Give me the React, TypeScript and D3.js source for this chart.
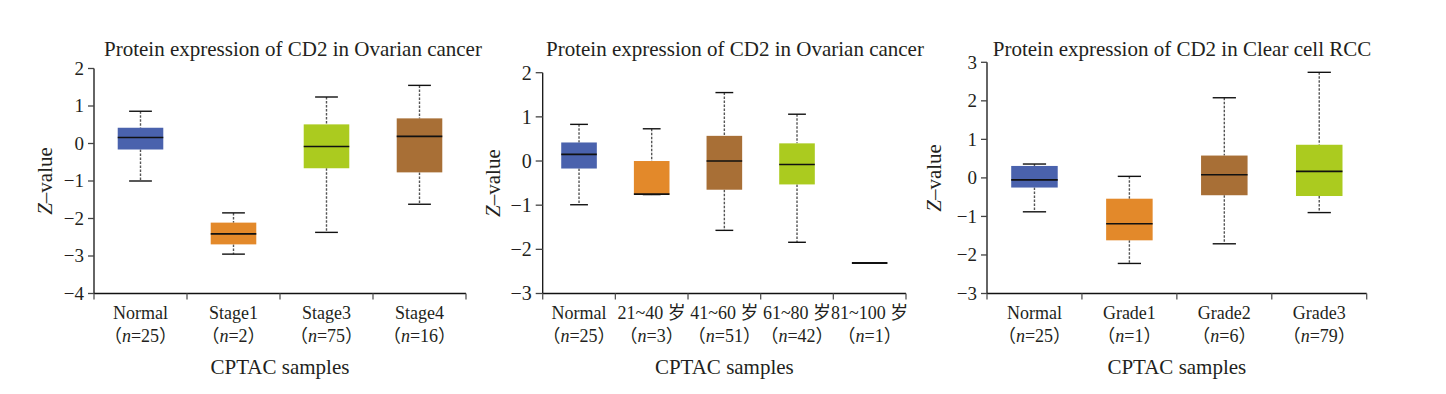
import React from "react";
import * as d3 from "d3";

// ---------- data ----------
const titles = [
  "Protein expression of CD2 in Ovarian cancer",
  "Protein expression of CD2 in Ovarian cancer",
  "Protein expression of CD2 in Clear cell RCC",
];

const cats1 = ["Normal", "Stage1", "Stage3", "Stage4"];
const n1 = [25, 2, 75, 16];
const lo1 = [-1.0, -2.95, -2.37, -1.62];
const q1a = [-0.16, -2.69, -0.66, -0.77];
const med1 = [0.16, -2.41, -0.08, 0.19];
const q3a = [0.42, -2.11, 0.51, 0.67];
const hi1 = [0.86, -1.85, 1.24, 1.55];
const yTicks1 = [2, 1, 0, -1, -2, -3, -4];

const cats2 = ["Normal", "21~40 岁", "41~60 岁", "61~80 岁", "81~100 岁"];
const n2 = [25, 3, 51, 42, 1];
const lo2 = [-0.99, -0.76, -1.57, -1.84, -2.31];
const q1b = [-0.17, -0.76, -0.65, -0.53, -2.31];
const med2 = [0.15, -0.75, 0.0, -0.08, -2.31];
const q3b = [0.42, 0.0, 0.57, 0.4, -2.31];
const hi2 = [0.83, 0.73, 1.55, 1.06, -2.31];
const yTicks2 = [2, 1, 0, -1, -2, -3];

const cats3 = ["Normal", "Grade1", "Grade2", "Grade3"];
const n3 = [25, 1, 6, 79];
const lo3 = [-0.88, -2.22, -1.71, -0.9];
const q1c = [-0.25, -1.62, -0.45, -0.47];
const med3 = [-0.05, -1.19, 0.08, 0.17];
const q3c = [0.31, -0.54, 0.58, 0.86];
const hi3 = [0.36, 0.04, 2.08, 2.74];
const yTicks3 = [3, 2, 1, 0, -1, -2, -3];

const BLUE = "#4a62ad";
const ORANGE = "#e3892a";
const LIME = "#abcb1f";
const BROWN = "#a86f36";

const colors1 = [BLUE, ORANGE, LIME, BROWN];
const colors2 = [BLUE, ORANGE, BROWN, LIME, "none"];
const colors3 = [BLUE, ORANGE, BROWN, LIME];

const xLabel = "CPTAC samples";

// ---------- layout ----------
const panels = [
  {
    title: titles[0], cats: cats1, n: n1, lo: lo1, q1: q1a, med: med1, q3: q3a, hi: hi1,
    colors: colors1, ticks: yTicks1, domain: [-4, 2],
    x0: 94, x1: 466, yTop: 68.5, yBot: 293.5, titleX: 293, ylabX: 52, tickFont: 19, tickLen: 6,
  },
  {
    title: titles[1], cats: cats2, n: n2, lo: lo2, q1: q1b, med: med2, q3: q3b, hi: hi2,
    colors: colors2, ticks: yTicks2, domain: [-3, 2],
    x0: 542.7, x1: 906, yTop: 72.7, yBot: 293.5, titleX: 735, ylabX: 500, tickFont: 20, tickLen: 7,
  },
  {
    title: titles[2], cats: cats3, n: n3, lo: lo3, q1: q1c, med: med3, q3: q3c, hi: hi3,
    colors: colors3, ticks: yTicks3, domain: [-3, 3],
    x0: 987, x1: 1366.7, yTop: 62.3, yBot: 293.5, titleX: 1182, ylabX: 941, tickFont: 19, tickLen: 6,
  },
];

const FONT = "'Liberation Serif', 'Times New Roman', 'Noto Sans CJK SC', serif";
const TEXT = "#231f20";

function Panel({ p }: { p: (typeof panels)[number] }) {
  const x = d3.scaleBand<string>().domain(p.cats).range([p.x0, p.x1]).padding(0);
  const y = d3.scaleLinear().domain(p.domain).range([p.yBot, p.yTop]);
  const bw = x.bandwidth() * 0.49;
  const cw = bw / 2;
  const boundaries = [...p.cats.map((c) => x(c)!), p.x1];
  const midX = (p.x0 + p.x1) / 2;
  return (
    <g fontFamily={FONT} fill={TEXT}>
      <text x={p.titleX} y={56} textAnchor="middle" fontSize={21}>{p.title}</text>
      {/* y axis */}
      <line x1={p.x0} x2={p.x0} y1={p.yTop} y2={p.yBot} stroke="#111" strokeWidth={1.3} />
      {p.ticks.map((t) => (
        <g key={t}>
          <line x1={p.x0 - p.tickLen} x2={p.x0} y1={y(t)} y2={y(t)} stroke="#444" strokeWidth={1.3} />
          <text x={p.x0 - p.tickLen - 4} y={y(t)} dy="0.34em" textAnchor="end" fontSize={p.tickFont}>
            {t < 0 ? "\u2212" + Math.abs(t) : String(t)}
          </text>
        </g>
      ))}
      <text
        transform={`translate(${p.ylabX},${(p.yTop + p.yBot) / 2}) rotate(-90)`}
        textAnchor="middle"
        fontSize={21}
      >
        <tspan fontStyle="italic">Z</tspan>–value
      </text>
      {/* x axis */}
      <line x1={p.x0} x2={p.x1} y1={p.yBot} y2={p.yBot} stroke="#111" strokeWidth={1.3} />
      {boundaries.map((bx, i) => (
        <line key={i} x1={bx} x2={bx} y1={p.yBot} y2={p.yBot + 6} stroke="#555" strokeWidth={1.3} />
      ))}
      {p.cats.map((c, i) => {
        const cx = x(c)! + x.bandwidth() / 2;
        return (
          <g key={c}>
            <text x={cx} y={319} textAnchor="middle" fontSize={18}>{c}</text>
            <text x={cx} y={342} textAnchor="middle" fontSize={18}>
              （<tspan fontStyle="italic">n</tspan>={p.n[i]}）
            </text>
          </g>
        );
      })}
      <text x={midX} y={374} textAnchor="middle" fontSize={21}>{xLabel}</text>
      {/* boxes */}
      {p.cats.map((c, i) => {
        const cx = x(c)! + x.bandwidth() / 2;
        const single = p.q1[i] === p.q3[i];
        return (
          <g key={"b" + c}>
            {!single && (
              <>
                <line x1={cx} x2={cx} y1={y(p.hi[i])} y2={y(p.q3[i])} stroke="#555" strokeWidth={1.4} strokeDasharray="2.5,1.5" />
                <line x1={cx} x2={cx} y1={y(p.q1[i])} y2={y(p.lo[i])} stroke="#555" strokeWidth={1.4} strokeDasharray="2.5,1.5" />
                <line x1={cx - cw / 2} x2={cx + cw / 2} y1={y(p.hi[i])} y2={y(p.hi[i])} stroke="#111" strokeWidth={1.4} />
                <line x1={cx - cw / 2} x2={cx + cw / 2} y1={y(p.lo[i])} y2={y(p.lo[i])} stroke="#111" strokeWidth={1.4} />
                <rect x={cx - bw / 2} y={y(p.q3[i])} width={bw} height={y(p.q1[i]) - y(p.q3[i])} fill={p.colors[i]} />
              </>
            )}
            <line x1={cx - bw / 2} x2={cx + bw / 2} y1={y(p.med[i])} y2={y(p.med[i])} stroke="#111" strokeWidth={single ? 2 : 1.6} />
          </g>
        );
      })}
    </g>
  );
}

export default function App() {
  return (
    <svg
      width={1446}
      height={394}
      style={{ position: "absolute", left: 0, top: 0, background: "#fff" }}
    >
      <rect width={1446} height={394} fill="#fff" />
      {panels.map((p, i) => (
        <Panel key={i} p={p} />
      ))}
    </svg>
  );
}
